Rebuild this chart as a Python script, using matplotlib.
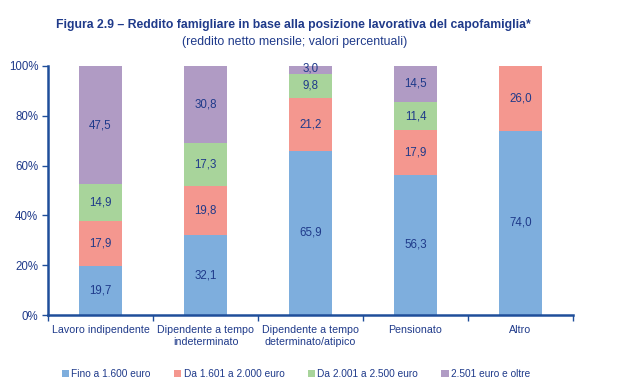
import matplotlib
matplotlib.use("Agg")
import matplotlib.pyplot as plt
import numpy as np
from matplotlib.ticker import FixedLocator, NullFormatter

categories = ["Lavoro indipendente", "Dipendente a tempo\nindeterminato",
              "Dipendente a tempo\ndeterminato/atipico", "Pensionato", "Altro"]
series_names = ["Fino a 1.600 euro", "Da 1.601 a 2.000 euro",
                "Da 2.001 a 2.500 euro", "2.501 euro e oltre"]
fino = [19.7, 32.1, 65.9, 56.3, 74.0]
da1601 = [17.9, 19.8, 21.2, 17.9, 26.0]
da2001 = [14.9, 17.3, 9.8, 11.4, 0.0]
oltre = [47.5, 30.8, 3.0, 14.5, 0.0]
series = [fino, da1601, da2001, oltre]
colors = ["#7EAEDD", "#F4978F", "#A8D49B", "#B09BC4"]

txt = "#1F3A8A"
axc = "#1F4E9A"
plt.rcParams['font.family'] = ['Liberation Sans', 'DejaVu Sans']

fig = plt.figure(figsize=(6.32, 3.88), dpi=100)
ax = fig.add_axes([48/632, 1-315/388, (573-48)/632, (315-66)/388])

x = np.arange(len(categories))
bottom = np.zeros(len(categories))
for vals, c, name in zip(series, colors, series_names):
    v = np.array(vals)
    ax.bar(x, v, 0.41, bottom=bottom, color=c, label=name)
    for xi, (b, h) in enumerate(zip(bottom, v)):
        if h > 0:
            yy = b + h / 2
            if h < 5:
                yy = min(b + h / 2 + 0.4, 99.2)
            ax.text(xi, yy, f"{h:.1f}".replace(".", ","), ha="center", va="center",
                    fontsize=8.3, color=txt)
    bottom = bottom + v

ax.set_xlim(-0.5, len(categories) - 0.5)
ax.set_ylim(0, 100)
ax.set_yticks(np.arange(0, 101, 20))
ax.set_yticklabels([f"{t}%" for t in range(0, 101, 20)], fontsize=8.3, color=txt)
ax.xaxis.set_major_locator(FixedLocator(np.arange(-0.5, len(categories), 1.0)))
ax.xaxis.set_major_formatter(NullFormatter())
ax.set_xticks(x, minor=True)
ax.set_xticklabels(categories, minor=True, fontsize=7.7, color=txt, linespacing=1.25)
ax.tick_params(axis="x", which="minor", length=0, pad=7.5)
ax.tick_params(axis="x", which="major", length=4, color=axc, width=1)
ax.tick_params(axis="y", length=4, color=axc, width=1, pad=3)
for s in ["top", "right"]:
    ax.spines[s].set_visible(False)
for s in ["left", "bottom"]:
    ax.spines[s].set_color(axc)
    ax.spines[s].set_linewidth(1.8)

fig.text(293/632, 1 - 25/388, "Figura 2.9 – Reddito famigliare in base alla posizione lavorativa del capofamiglia*",
         ha="center", va="center", fontsize=8.8, fontweight="bold", color=txt)
fig.text(295/632, 1 - 42/388, "(reddito netto mensile; valori percentuali)",
         ha="center", va="center", fontsize=8.9, color=txt)

fig.legend(loc="center", bbox_to_anchor=(296/632, 1 - 374/388), ncol=4, frameon=False,
           fontsize=7.3, handlelength=0.7, handleheight=0.7, handletextpad=0.25,
           columnspacing=2.3, labelcolor=txt)

fig.savefig("out.png", dpi=100)
